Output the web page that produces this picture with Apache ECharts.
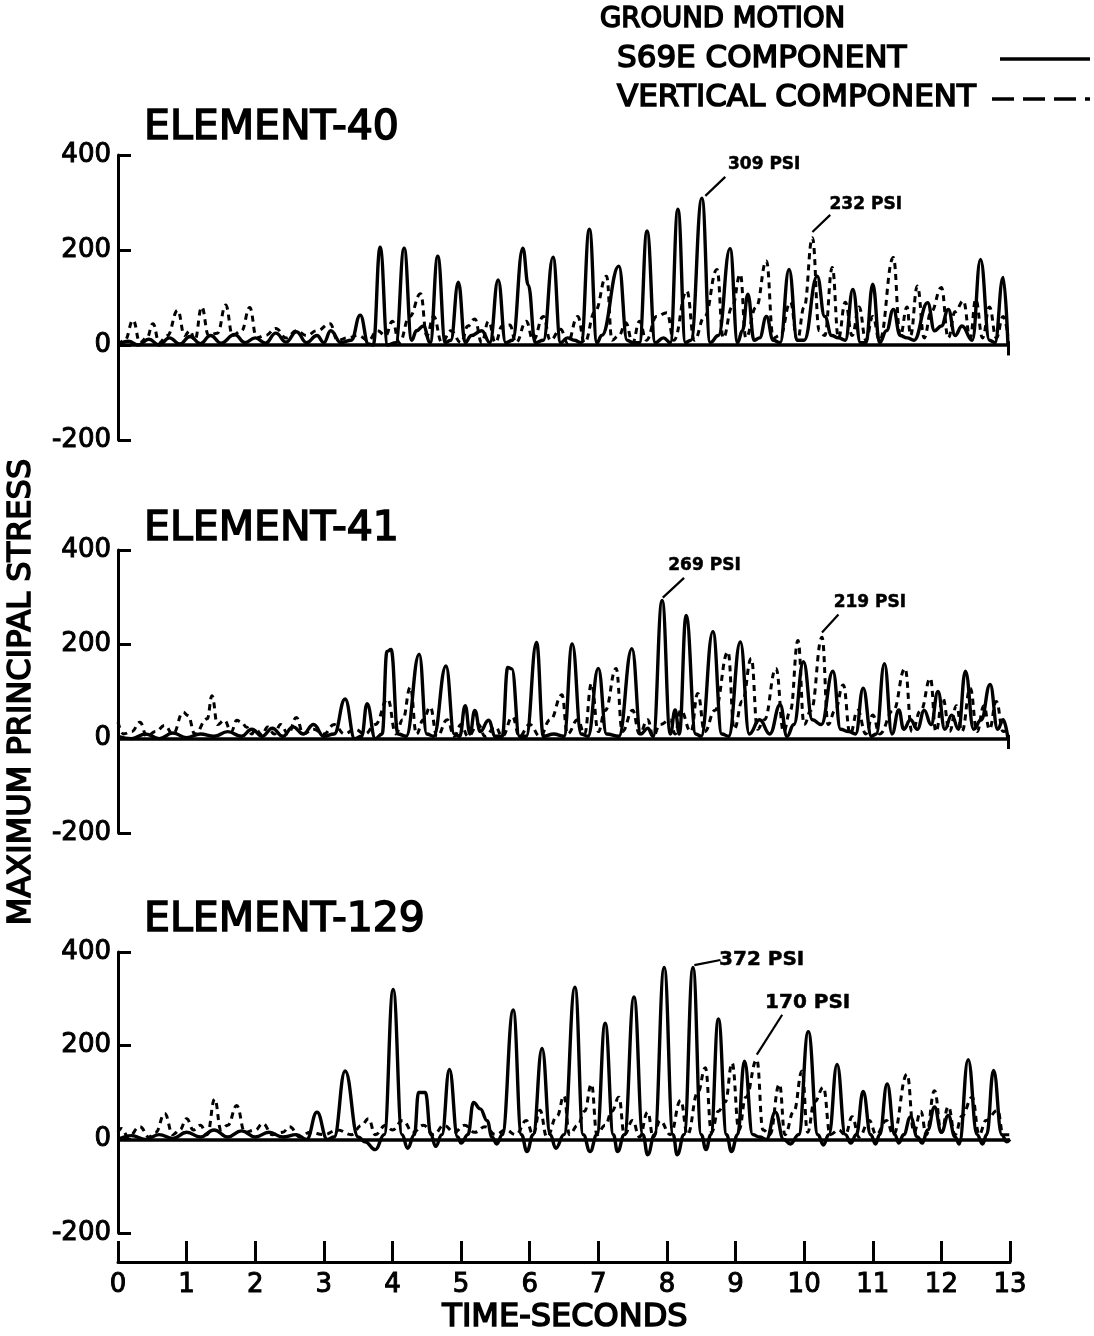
<!DOCTYPE html>
<html>
<head>
<meta charset="utf-8">
<script src="https://cdn.jsdelivr.net/npm/echarts@6/dist/echarts.min.js"></script>
<style>html,body{margin:0;padding:0;background:#fff}#c{width:1094px;height:1336px}</style>
</head>
<body>
<div id="c"></div>
<script>
// ---------- DATA ----------
const panelTitles = ['ELEMENT-40', 'ELEMENT-41', 'ELEMENT-129'];
const xTickLabels = ['0','1','2','3','4','5','6','7','8','9','10','11','12','13'];
const yTicks = [-200, 0, 200, 400];

// Element-40, S69E component (solid)  [time s, stress psi]
const e40Solid = [[0,0],[0.15,8],[0.3,0],[0.45,12],[0.6,0],[0.75,15],[0.9,2],[1.05,18],[1.2,3],[1.35,20],[1.5,4],[1.7,22],[1.85,5],[2.0,15],[2.15,4],[2.3,25],[2.45,6],[2.6,28],[2.75,5],[2.9,20],[3.0,5],[3.1,30],[3.25,5],[3.4,10],[3.53,63],[3.65,2],[3.72,0],[3.82,206],[3.93,0],[4.05,5],[4.17,204],[4.28,10],[4.35,30],[4.45,40],[4.55,5],[4.66,187],[4.77,5],[4.85,10],[4.96,132],[5.06,5],[5.15,20],[5.3,30],[5.42,5],[5.54,137],[5.65,5],[5.75,10],[5.9,204],[5.98,126],[6.08,5],[6.2,10],[6.34,185],[6.45,5],[6.55,15],[6.65,10],[6.75,5],[6.87,244],[6.98,5],[7.05,20],[7.3,166],[7.42,10],[7.5,5],[7.6,5],[7.71,240],[7.83,5],[7.95,15],[8.05,5],[8.16,286],[8.27,5],[8.35,10],[8.51,309],[8.63,5],[8.75,20],[8.92,203],[9.03,5],[9.1,30],[9.18,107],[9.27,10],[9.35,15],[9.45,60],[9.55,10],[9.65,5],[9.78,159],[9.9,10],[10.0,10],[10.19,145],[10.3,60],[10.4,20],[10.5,15],[10.6,10],[10.71,117],[10.82,5],[10.9,5],[11.0,128],[11.1,5],[11.2,30],[11.3,75],[11.4,20],[11.5,15],[11.6,10],[11.8,89],[11.9,30],[12.0,40],[12.1,75],[12.2,20],[12.3,40],[12.45,10],[12.57,180],[12.7,10],[12.78,5],[12.9,142],[12.97,0]];
// Element-40, vertical component (dashed)
const e40Dashed = [[0,0],[0.1,10],[0.22,52],[0.32,5],[0.42,15],[0.51,45],[0.6,5],[0.72,20],[0.87,73],[0.97,20],[1.05,30],[1.12,10],[1.22,80],[1.32,20],[1.45,25],[1.57,84],[1.67,20],[1.8,30],[1.92,79],[2.02,15],[2.15,20],[2.3,35],[2.45,15],[2.6,30],[2.75,20],[2.9,30],[3.09,45],[3.2,10],[3.35,15],[3.5,20],[3.65,10],[3.78,30],[3.9,20],[4.0,50],[4.1,5],[4.25,60],[4.41,108],[4.5,20],[4.6,60],[4.72,5],[4.85,30],[5.0,5],[5.1,40],[5.2,55],[5.3,5],[5.4,50],[5.5,5],[5.6,40],[5.71,42],[5.8,5],[5.95,50],[6.05,10],[6.2,60],[6.3,10],[6.45,33],[6.55,5],[6.7,60],[6.8,5],[6.95,70],[7.12,145],[7.2,10],[7.3,20],[7.4,47],[7.5,5],[7.6,50],[7.7,10],[7.85,60],[8.0,68],[8.1,10],[8.29,114],[8.4,10],[8.55,60],[8.73,159],[8.82,15],[8.95,80],[9.07,149],[9.15,15],[9.3,80],[9.45,177],[9.55,15],[9.65,20],[9.8,90],[9.9,10],[10.0,80],[10.12,226],[10.22,30],[10.3,20],[10.41,163],[10.5,15],[10.6,90],[10.7,20],[10.8,80],[10.9,10],[11.0,60],[11.1,10],[11.3,184],[11.4,20],[11.5,80],[11.55,20],[11.65,124],[11.75,15],[11.85,70],[12.0,121],[12.1,15],[12.2,70],[12.32,93],[12.42,15],[12.5,96],[12.6,15],[12.7,80],[12.8,15],[12.9,60],[12.97,20]];

// Element-41
const e41Solid = [[0,5],[0.2,0],[0.4,10],[0.6,0],[0.8,12],[1.0,2],[1.2,10],[1.4,5],[1.6,15],[1.8,5],[1.95,20],[2.1,5],[2.25,22],[2.4,5],[2.55,25],[2.7,10],[2.85,30],[3.0,5],[3.15,10],[3.31,84],[3.45,0],[3.55,5],[3.63,74],[3.75,0],[3.85,10],[3.92,185],[3.98,189],[4.08,10],[4.2,5],[4.39,179],[4.5,10],[4.6,5],[4.78,154],[4.9,10],[4.98,5],[5.06,70],[5.13,10],[5.2,60],[5.28,15],[5.4,39],[5.5,5],[5.6,5],[5.68,151],[5.74,148],[5.85,5],[5.95,5],[6.1,204],[6.2,5],[6.35,10],[6.5,5],[6.62,201],[6.75,10],[6.85,5],[7.0,149],[7.12,10],[7.3,5],[7.49,191],[7.62,10],[7.72,22],[7.8,5],[7.93,293],[8.05,10],[8.12,61],[8.18,10],[8.28,261],[8.42,10],[8.5,5],[8.67,227],[8.8,10],[8.9,5],[9.07,205],[9.2,10],[9.35,40],[9.5,10],[9.65,72],[9.75,5],[9.85,30],[9.99,163],[10.12,40],[10.25,30],[10.42,143],[10.53,20],[10.65,15],[10.75,10],[10.86,107],[10.98,5],[11.05,10],[11.17,159],[11.28,10],[11.38,61],[11.45,20],[11.55,40],[11.65,20],[11.75,60],[11.85,30],[11.95,100],[12.05,20],[12.15,50],[12.25,20],[12.35,143],[12.47,20],[12.58,40],[12.71,115],[12.82,20],[12.9,40],[12.97,0]];
const e41Dashed = [[0,35],[0.08,10],[0.2,15],[0.32,35],[0.42,5],[0.55,15],[0.68,28],[0.8,10],[0.95,56],[1.02,49],[1.12,10],[1.3,42],[1.37,91],[1.45,30],[1.55,39],[1.65,15],[1.73,39],[1.8,35],[1.87,25],[1.95,10],[2.0,20],[2.1,8],[2.18,25],[2.28,10],[2.37,30],[2.48,10],[2.6,45],[2.7,10],[2.85,20],[3.0,10],[3.15,30],[3.3,10],[3.45,20],[3.6,10],[3.75,30],[3.93,84],[4.05,10],[4.15,40],[4.26,109],[4.35,10],[4.45,40],[4.55,67],[4.65,5],[4.8,40],[4.9,5],[5.0,30],[5.1,5],[5.25,30],[5.35,5],[5.5,25],[5.6,5],[5.75,46],[5.85,5],[6.0,30],[6.15,5],[6.3,40],[6.47,93],[6.55,10],[6.7,40],[6.8,10],[6.9,117],[7.0,15],[7.1,60],[7.26,149],[7.35,15],[7.5,60],[7.6,10],[7.72,40],[7.8,5],[7.9,30],[8.05,40],[8.12,10],[8.2,60],[8.35,15],[8.45,96],[8.55,15],[8.7,60],[8.89,184],[8.98,20],[9.1,80],[9.23,170],[9.32,20],[9.42,40],[9.59,149],[9.7,15],[9.8,60],[9.91,208],[10.0,30],[10.1,60],[10.26,215],[10.35,30],[10.45,60],[10.57,114],[10.67,10],[10.78,60],[10.9,10],[11.0,50],[11.1,10],[11.3,60],[11.47,149],[11.57,15],[11.7,60],[11.84,128],[11.92,15],[12.02,86],[12.12,15],[12.22,70],[12.3,15],[12.42,107],[12.52,15],[12.62,70],[12.7,20],[12.8,79],[12.9,15],[12.97,20]];

// Element-129
const e129Solid = [[0,0],[0.2,8],[0.4,0],[0.6,10],[0.8,2],[1.0,15],[1.2,5],[1.4,20],[1.6,5],[1.8,18],[2.0,5],[2.2,15],[2.4,5],[2.6,10],[2.75,0],[2.9,58],[3.05,0],[3.15,5],[3.31,146],[3.5,5],[3.6,-5],[3.75,-22],[3.88,10],[4.01,320],[4.14,10],[4.22,-19],[4.32,10],[4.38,100],[4.48,100],[4.56,10],[4.63,-15],[4.72,10],[4.83,149],[4.95,5],[5.0,-8],[5.1,10],[5.18,79],[5.28,65],[5.38,40],[5.45,5],[5.52,-10],[5.6,10],[5.76,276],[5.88,10],[5.96,-26],[6.05,10],[6.18,194],[6.3,10],[6.38,-19],[6.5,10],[6.66,325],[6.78,10],[6.88,-26],[6.98,10],[7.1,248],[7.22,10],[7.28,-26],[7.38,10],[7.52,304],[7.65,10],[7.72,-33],[7.82,10],[7.96,367],[8.09,10],[8.15,-33],[8.25,10],[8.38,367],[8.5,10],[8.57,-22],[8.64,10],[8.75,257],[8.87,10],[8.94,-26],[9.03,10],[9.13,167],[9.25,10],[9.35,5],[9.45,0],[9.58,58],[9.7,0],[9.8,-10],[9.92,10],[10.06,230],[10.2,10],[10.28,-12],[10.36,10],[10.48,160],[10.6,10],[10.68,-8],[10.76,10],[10.86,102],[10.97,10],[11.04,-10],[11.1,10],[11.21,118],[11.32,10],[11.38,-8],[11.45,10],[11.55,48],[11.65,5],[11.72,-8],[11.8,20],[11.9,69],[12.0,15],[12.1,51],[12.2,5],[12.26,-10],[12.39,170],[12.52,10],[12.6,-10],[12.66,10],[12.76,147],[12.88,10],[12.95,-5],[13.0,0]];
const e129Dashed = [[0,15],[0.05,23],[0.15,5],[0.32,27],[0.45,5],[0.55,15],[0.68,55],[0.8,10],[0.9,20],[1.0,44],[1.1,20],[1.2,30],[1.3,10],[1.41,86],[1.5,20],[1.6,30],[1.73,72],[1.85,15],[2.0,20],[2.11,34],[2.25,10],[2.4,15],[2.5,27],[2.65,5],[2.8,15],[3.0,10],[3.2,20],[3.4,10],[3.55,30],[3.65,44],[3.75,10],[3.9,30],[4.0,20],[4.15,40],[4.3,15],[4.45,30],[4.6,10],[4.75,30],[4.9,15],[5.05,30],[5.2,15],[5.35,27],[5.5,10],[5.65,20],[5.8,10],[5.95,40],[6.05,10],[6.15,62],[6.25,5],[6.4,50],[6.5,93],[6.58,10],[6.7,30],[6.8,60],[6.9,118],[6.98,10],[7.1,30],[7.2,60],[7.3,90],[7.38,10],[7.5,40],[7.6,5],[7.72,58],[7.8,5],[7.9,40],[8.05,10],[8.2,83],[8.3,10],[8.45,100],[8.56,153],[8.65,15],[8.75,60],[8.85,80],[8.95,163],[9.05,20],[9.15,90],[9.31,170],[9.4,20],[9.5,10],[9.64,118],[9.72,10],[9.85,60],[9.97,146],[10.05,15],[10.15,80],[10.28,111],[10.38,10],[10.5,20],[10.6,10],[10.7,48],[10.8,5],[10.95,40],[11.05,10],[11.2,40],[11.3,10],[11.5,139],[11.6,15],[11.7,60],[11.78,10],[11.9,104],[12.0,15],[12.1,70],[12.2,10],[12.3,50],[12.45,90],[12.55,10],[12.65,40],[12.82,62],[12.9,10],[13.0,10]];

// Peak annotations: label text, label anchor [t, psi], leader from/to [t, psi]
const e40Notes = [
  {text:'309 PSI', at:[8.89,379], from:[8.56,314], to:[8.85,354]},
  {text:'232 PSI', at:[10.37,295], from:[10.12,238], to:[10.38,274]}
];
const e41Notes = [
  {text:'269 PSI', at:[8.02,366], from:[7.94,299], to:[8.25,341]},
  {text:'219 PSI', at:[10.43,288], from:[10.26,225], to:[10.50,263]}
];
const e129Notes = [
  {text:'372 PSI', at:[8.76,383], from:[8.40,372], to:[8.78,383]},
  {text:'170 PSI', at:[9.43,292], from:[9.31,181], to:[9.68,266]}
];

// ---------- CHART ----------
const FONT = 'DejaVu Sans';
const BLACK = '#000';
const chart = echarts.init(document.getElementById('c'), null, {renderer:'canvas'});

const grids = [
  {left:118, width:892, top:155, height:285},
  {left:118, width:892, top:550, height:283},
  {left:118, width:892, top:952, height:281}
];

function yAxisFor(i){
  return {
    type:'value', gridIndex:i, min:-200, max:400, interval:200,
    axisLine:{show:true, onZero:false, lineStyle:{color:BLACK, width:3}},
    axisTick:{show:true, inside:true, length:13, lineStyle:{color:BLACK, width:3}},
    axisLabel:{show:true, margin:7, color:BLACK, fontFamily:FONT, fontSize:26,
      textBorderColor:BLACK, textBorderWidth:1,
      formatter:(v)=> yTicks.indexOf(v) >= 0 ? String(v) : ''},
    splitLine:{show:false}
  };
}
function xAxisFor(i){
  const base = {type:'value', gridIndex:i, min:0, max:13, interval:1, splitLine:{show:false}};
  if (i < 2) {
    return Object.assign(base, {show:true, axisLine:{show:false}, axisTick:{show:false}, axisLabel:{show:false}});
  }
  return Object.assign(base, {
    position:'bottom', offset:29,
    axisLine:{show:true, onZero:false, lineStyle:{color:BLACK, width:3}},
    axisTick:{show:true, inside:true, length:21, lineStyle:{color:BLACK, width:3}},
    axisLabel:{show:true, margin:10, color:BLACK, fontFamily:FONT, fontSize:26,
      textBorderColor:BLACK, textBorderWidth:1,
      formatter:(v)=> xTickLabels[Math.round(v)] || ''}
  });
}

function panelSeries(i, solid, dashed, notes, noteSize){
  const lines = [
    [{coord:[0,0], lineStyle:{width:3.5}}, {coord:[13,0]}]
  ];
  if (i < 2) lines.push([{coord:[12.97,8], lineStyle:{width:3}}, {coord:[12.97,-22]}]);
  notes.forEach(n => lines.push([{coord:n.from, lineStyle:{width:2.2}}, {coord:n.to}]));
  return [
    {
      type:'line', xAxisIndex:i, yAxisIndex:i, data:solid, showSymbol:false, symbol:'none',
      smooth:0.45, smoothMonotone:'x', clip:false, z:3,
      lineStyle:{color:BLACK, width:3.4, type:'solid'},
      markLine:{silent:true, symbol:['none','none'], label:{show:false},
        lineStyle:{color:BLACK, type:'solid'}, data:lines, animation:false},
      markPoint:{silent:true, symbol:'circle', symbolSize:0, animation:false,
        label:{show:true, position:'right', distance:0, color:BLACK, fontFamily:FONT,
          fontSize:noteSize, fontWeight:'bold', textBorderColor:BLACK, textBorderWidth:0.5},
        data: notes.map(n => ({coord:n.at, value:n.text, label:{formatter:n.text}}))}
    },
    {
      type:'line', xAxisIndex:i, yAxisIndex:i, data:dashed, showSymbol:false, symbol:'none',
      smooth:0.45, smoothMonotone:'x', clip:false, z:2,
      lineStyle:{color:BLACK, width:3, type:[6,5]}
    }
  ];
}

function txt(x, y, text, size, align){
  return {
    type:'text', x:x, y:y, silent:true,
    style:{text:text, fill:BLACK, font:'normal ' + size + 'px "' + FONT + '"',
      stroke:BLACK, lineWidth:1.6, textAlign:align || 'left', textVerticalAlign:'middle'}
  };
}

const yTitle = txt(22, 692, 'MAXIMUM PRINCIPAL STRESS', 32, 'center');
yTitle.rotation = Math.PI / 2;

const option = {
  animation:false,
  backgroundColor:'#fff',
  grid:grids,
  xAxis:[xAxisFor(0), xAxisFor(1), xAxisFor(2)],
  yAxis:[yAxisFor(0), yAxisFor(1), yAxisFor(2)],
  series:[].concat(
    panelSeries(0, e40Solid, e40Dashed, e40Notes, 17),
    panelSeries(1, e41Solid, e41Dashed, e41Notes, 17),
    panelSeries(2, e129Solid, e129Dashed, e129Notes, 20)
  ),
  graphic:[
    // legend
    txt(600, 20, 'GROUND MOTION', 27.5),
    txt(617, 59, 'S69E COMPONENT', 31),
    txt(617, 98, 'VERTICAL COMPONENT', 31),
    {type:'line', silent:true, shape:{x1:1000, y1:59, x2:1090, y2:59}, style:{stroke:BLACK, lineWidth:3.5}},
    {type:'line', silent:true, shape:{x1:992, y1:99, x2:1090, y2:99}, style:{stroke:BLACK, lineWidth:3.5, lineDash:[22,9]}},
    // panel titles
    txt(144, 128, panelTitles[0], 41),
    txt(144, 529, panelTitles[1], 41),
    txt(144, 920, panelTitles[2], 41),
    // axis titles
    txt(565, 1318, 'TIME-SECONDS', 32, 'center'),
    yTitle
  ]
};
chart.setOption(option);
</script>
</body>
</html>
